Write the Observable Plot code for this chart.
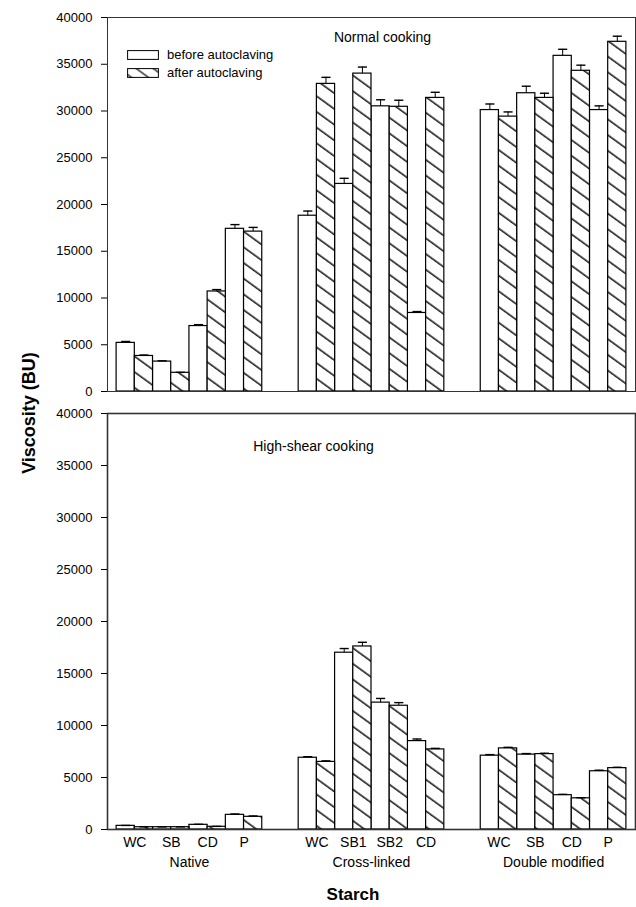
<!DOCTYPE html>
<html><head><meta charset="utf-8">
<script src="https://cdn.jsdelivr.net/npm/d3@7"></script>
<script src="https://cdn.jsdelivr.net/npm/@observablehq/plot@0.6"></script>
<style>
body{margin:0;background:#fff;font-family:"Liberation Sans",Arial,sans-serif;}
#wrap{position:relative;width:636px;height:907px;overflow:hidden;}
#wrap svg.plot{display:block;}
.ylab{position:absolute;left:29px;top:413px;transform:translate(-50%,-50%) rotate(-90deg);font-weight:bold;font-size:18px;white-space:nowrap;color:#000;}
.xlab{position:absolute;left:353px;top:895px;transform:translate(-50%,-50%);font-weight:bold;font-size:17px;line-height:20px;white-space:nowrap;color:#000;}
.legend{position:absolute;left:127px;top:46px;font-size:13px;color:#000;line-height:18px;}
.legend div{display:flex;align-items:center;height:18px;}
.legend svg{margin-right:8px;}
</style></head><body>
<svg width="0" height="0" style="position:absolute"><defs>
<pattern id="hatch" patternUnits="userSpaceOnUse" width="12.7" height="12.7" patternTransform="rotate(36)">
<rect width="12.7" height="12.7" fill="white"/>
<line x1="0" y1="6" x2="12.7" y2="6" stroke="black" stroke-width="1.4"/>
</pattern>
<pattern id="hatchL" patternUnits="userSpaceOnUse" width="10" height="10" patternTransform="rotate(36)">
<rect width="10" height="10" fill="white"/>
<line x1="0" y1="5" x2="10" y2="5" stroke="black" stroke-width="1.2"/>
</pattern>
</defs></svg>
<div id="wrap"></div>
<script>
const groups = ["Native", "Cross-linked", "Double modified"];
const starches = [["WC", "SB", "CD", "P"], ["WC", "SB1", "SB2", "CD"], ["WC", "SB", "CD", "P"]];
const conditions = ["before autoclaving", "after autoclaving"];
const yTicks = [0, 5000, 10000, 15000, 20000, 25000, 30000, 35000, 40000];

// Normal cooking (BU), 12 starches in order of the groups above
const normalBefore    = [5200, 3200, 7000, 17400, 18800, 22200, 30500, 8400, 30100, 31900, 35900, 30100];
const normalAfter     = [3800, 2000, 10700, 17100, 32900, 34000, 30450, 31400, 29400, 31400, 34300, 37400];
const normalErrBefore = [150, 80, 150, 450, 500, 600, 700, 150, 650, 750, 700, 450];
const normalErrAfter  = [100, 50, 200, 450, 700, 700, 700, 600, 500, 500, 600, 600];

// High-shear cooking (BU)
const shearBefore    = [350, 220, 450, 1410, 6900, 17000, 12200, 8500, 7100, 7200, 3300, 5600];
const shearAfter     = [220, 220, 260, 1220, 6500, 17600, 11900, 7700, 7800, 7250, 3000, 5900];
const shearErrBefore = [40, 30, 50, 80, 100, 400, 400, 200, 100, 100, 80, 100];
const shearErrAfter  = [40, 30, 40, 80, 100, 400, 300, 100, 100, 80, 60, 80];

function buildRows(before, after, eb, ea) {
  const rows = [];
  let k = 0;
  groups.forEach((g, gi) => {
    starches[gi].forEach((s, si) => {
      [before[k], after[k]].forEach((v, c) => {
        rows.push({group: g, starch: s, cond: conditions[c], c, slot: gi * 10 + si * 2 + c, value: v, err: c ? ea[k] : eb[k]});
      });
      k++;
    });
  });
  return rows;
}

const starchLabels = [];
groups.forEach((g, gi) => starches[gi].forEach((s, si) => starchLabels.push({label: s, pos: gi * 10 + si * 2 + 1})));
const groupLabels = groups.map((g, gi) => ({label: g, pos: gi * 10 + 4}));

function panel(title, rows, opts) {
  const marks = [
    Plot.rectY(rows.filter(d => d.c === 0), {x1: "slot", x2: d => d.slot + 1, y1: 0, y2: "value", fill: "white", stroke: "black", strokeWidth: 1.2}),
    Plot.rectY(rows.filter(d => d.c === 1), {x1: "slot", x2: d => d.slot + 1, y1: 0, y2: "value", fill: "url(#hatch)", stroke: "black", strokeWidth: 1.2}),
    Plot.ruleX(rows, {x: d => d.slot + 0.5, y1: "value", y2: d => d.value + d.err, stroke: "black", strokeWidth: 1}),
    Plot.link(rows, {x1: d => d.slot + 0.25, x2: d => d.slot + 0.75, y1: d => d.value + d.err, y2: d => d.value + d.err, stroke: "black", strokeWidth: 1.4}),
    Plot.frame({stroke: "#333", strokeWidth: opts.frameWidth}),
    Plot.axisY({ticks: yTicks, tickSize: 6, tickPadding: 9, tickFormat: d => String(d), label: null, fontSize: 13}),
    Plot.text([title], {frameAnchor: "top", dx: opts.titleDx, dy: opts.titleDy, lineAnchor: "middle", fontSize: 14})
  ];
  if (opts.xlabels) {
    marks.push(Plot.text(starchLabels, {x: "pos", y: 0, text: "label", dy: 13, lineAnchor: "middle", fontSize: 14}));
    marks.push(Plot.text(groupLabels, {x: "pos", y: 0, text: "label", dy: 33, lineAnchor: "middle", fontSize: 14}));
  }
  return Plot.plot({
    width: 636,
    height: opts.height,
    marginLeft: 107,
    marginRight: 1,
    marginTop: opts.marginTop,
    marginBottom: opts.marginBottom,
    x: {domain: [-0.5, 28.5], axis: null},
    y: {domain: [0, 40000], axis: null},
    style: {fontFamily: "Liberation Sans, Arial, sans-serif", fontSize: "13px", color: "#000", background: "white"},
    marks
  });
}

const wrap = document.getElementById("wrap");
const topPanel = panel("Normal cooking", buildRows(normalBefore, normalAfter, normalErrBefore, normalErrAfter),
  {height: 400, marginTop: 17, marginBottom: 9, titleDx: 11, titleDy: 20, frameWidth: 1});
const bottomPanel = panel("High-shear cooking", buildRows(shearBefore, shearAfter, shearErrBefore, shearErrAfter),
  {height: 507, marginTop: 13, marginBottom: 78, titleDx: -58, titleDy: 33, frameWidth: 1.6, xlabels: true});
topPanel.classList.add("plot");
bottomPanel.classList.add("plot");
wrap.appendChild(topPanel);
wrap.appendChild(bottomPanel);

const ylab = document.createElement("div");
ylab.className = "ylab";
ylab.textContent = "Viscosity (BU)";
wrap.appendChild(ylab);

const xlab = document.createElement("div");
xlab.className = "xlab";
xlab.textContent = "Starch";
wrap.appendChild(xlab);

const legend = document.createElement("div");
legend.className = "legend";
conditions.forEach((c, i) => {
  const row = document.createElement("div");
  row.innerHTML = `<svg width="32" height="10"><rect x="0.6" y="0.6" width="30.8" height="8.8" fill="${i ? "url(#hatchL)" : "white"}" stroke="black" stroke-width="1"/></svg><span></span>`;
  row.querySelector("span").textContent = c;
  legend.appendChild(row);
});
wrap.appendChild(legend);
</script>
</body></html>
